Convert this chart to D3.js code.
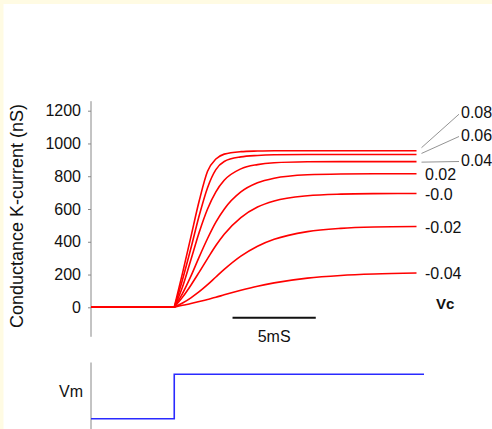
<!DOCTYPE html>
<html>
<head>
<meta charset="utf-8">
<script src="https://cdn.jsdelivr.net/npm/d3@7"></script>
<style>
  body { margin: 0; background: #fff; }
  text { font-family: "Liberation Sans", Arial, sans-serif; fill: #111; }
</style>
</head>
<body>
<svg></svg>
<script>
const WIDTH = 492;
const HEIGHT = 429;

// time (ms) after the voltage step, for the rising part of each trace
const stepTime = 5;
const riseTimes = [0, 0.5, 1, 1.5, 2, 2.5, 3, 4, 5, 6, 8, 10, 12, 14.55];

const vcLabels = ["0.08", "0.06", "0.04", "0.02", "-0.0", "-0.02", "-0.04"];

const g008 = [0, 210, 430, 650, 830, 905, 935, 950, 954, 956, 956, 956, 956, 956];
const g006 = [0, 170, 360, 560, 730, 840, 890, 918, 927, 931, 933, 933, 933, 933];
const g004 = [0, 125, 290, 458, 600, 705, 775, 845, 871, 882, 888, 889, 889, 889];
const g002 = [0, 85, 190, 308, 420, 520, 599, 704, 760, 788, 809, 814, 815, 815];
const g000 = [0, 62, 135, 215, 297, 377, 446, 548, 612, 649, 681, 691, 694, 695];
const gm002 = [0, 26, 58, 95, 138, 185, 231, 312, 373, 415, 462, 482, 490, 493];
const gm004 = [0, 12, 23, 35, 48, 61, 76, 104, 129, 149, 178, 194, 203, 209];

const series = [g008, g006, g004, g002, g000, gm002, gm004];

const yTicks = [0, 200, 400, 600, 800, 1000, 1200];

// command voltage trace (0 = holding, 1 = step)
const vmTimes = [0, 5, 5, 20];
const vmLevels = [0, 0, 1, 1];

const scaleBar = [8.5, 13.5]; // 5 ms

var svg = d3.select("svg").attr("width", WIDTH).attr("height", HEIGHT);

// pale yellow frame on top/left edges
svg.append("rect").attr("width", WIDTH).attr("height", HEIGHT).attr("fill", "#fffbe3");
svg.append("rect").attr("x", 3.5).attr("y", 4).attr("width", WIDTH).attr("height", HEIGHT).attr("fill", "#fff");

var x = d3.scaleLinear().domain([0, 20]).range([91, 424]);
var y = d3.scaleLinear().domain([0, 1200]).range([307.3, 110.7]);

// y axis
svg.append("line")
  .attr("x1", 91).attr("x2", 91)
  .attr("y1", y(1258)).attr("y2", y(-180))
  .attr("stroke", "#888").attr("stroke-width", 1);

var yAxis = svg.append("g")
  .attr("transform", "translate(91,0)")
  .call(d3.axisLeft(y).tickValues(yTicks).tickSize(3).tickPadding(7).tickFormat(d3.format("d")));
yAxis.select(".domain").remove();
yAxis.selectAll(".tick line").attr("stroke", "#888");
yAxis.selectAll(".tick text")
  .attr("font-size", 16)
  .attr("font-family", "Liberation Sans, Arial, sans-serif")
  .attr("fill", "#111");

svg.append("text")
  .attr("transform", "translate(23,216) rotate(-90)")
  .attr("text-anchor", "middle")
  .attr("font-size", 18)
  .text("Conductance K-current (nS)");

// traces
var baseline = d3.line().x((d) => x(d)).y(y(0));
var rise = d3.line()
  .x((d, i) => x(stepTime + riseTimes[i]))
  .y((d) => y(d))
  .curve(d3.curveMonotoneX);

var traces = svg.append("g")
  .attr("fill", "none")
  .attr("stroke", "#ff0000")
  .attr("stroke-width", 1.6);

for (var s of series) {
  traces.append("path").attr("d", baseline([0, stepTime]));
  traces.append("path").attr("d", rise(s));
}

// labels at the end of each trace
var endX = x(stepTime + riseTimes[riseTimes.length - 1]);
var topLabelY = [112.7, 135, 160];
var leaderDy = [-3, -1, 0.5];

series.forEach(function (s, i) {
  var yEnd = y(s[s.length - 1]);
  if (i < 3) {
    svg.append("line")
      .attr("x1", endX + 5).attr("y1", yEnd + leaderDy[i])
      .attr("x2", 459).attr("y2", topLabelY[i] + 1.5)
      .attr("stroke", "#777").attr("stroke-width", 0.8);
    svg.append("text")
      .attr("x", 461).attr("y", topLabelY[i])
      .attr("dy", "0.35em")
      .attr("font-size", 16)
      .text(vcLabels[i]);
  } else {
    svg.append("text")
      .attr("x", 425).attr("y", yEnd + 0.5)
      .attr("dy", "0.35em")
      .attr("font-size", 16)
      .text(vcLabels[i]);
  }
});

svg.append("text")
  .attr("x", 436).attr("y", 304)
  .attr("dy", "0.35em")
  .attr("font-size", 15)
  .attr("font-weight", "bold")
  .text("Vc");

// time scale bar
svg.append("line")
  .attr("x1", x(scaleBar[0])).attr("x2", x(scaleBar[1]))
  .attr("y1", 317.7).attr("y2", 317.7)
  .attr("stroke", "#111").attr("stroke-width", 2);
svg.append("text")
  .attr("x", (x(scaleBar[0]) + x(scaleBar[1])) / 2).attr("y", 336)
  .attr("dy", "0.35em")
  .attr("text-anchor", "middle")
  .attr("font-size", 16)
  .text("5mS");

// Vm trace
var v = d3.scaleLinear().domain([0, 1]).range([418.7, 374.3]);

svg.append("line")
  .attr("x1", 91).attr("x2", 91)
  .attr("y1", 362.5).attr("y2", HEIGHT)
  .attr("stroke", "#888").attr("stroke-width", 1);

svg.append("path")
  .datum(vmTimes.map((t, i) => [t, vmLevels[i]]))
  .attr("fill", "none")
  .attr("stroke", "#2a2aff")
  .attr("stroke-width", 1.6)
  .attr("d", d3.line().x((d) => x(d[0])).y((d) => v(d[1])));

svg.append("text")
  .attr("x", 83).attr("y", 391.7)
  .attr("dy", "0.35em")
  .attr("text-anchor", "end")
  .attr("font-size", 16)
  .text("Vm");
</script>
</body>
</html>
